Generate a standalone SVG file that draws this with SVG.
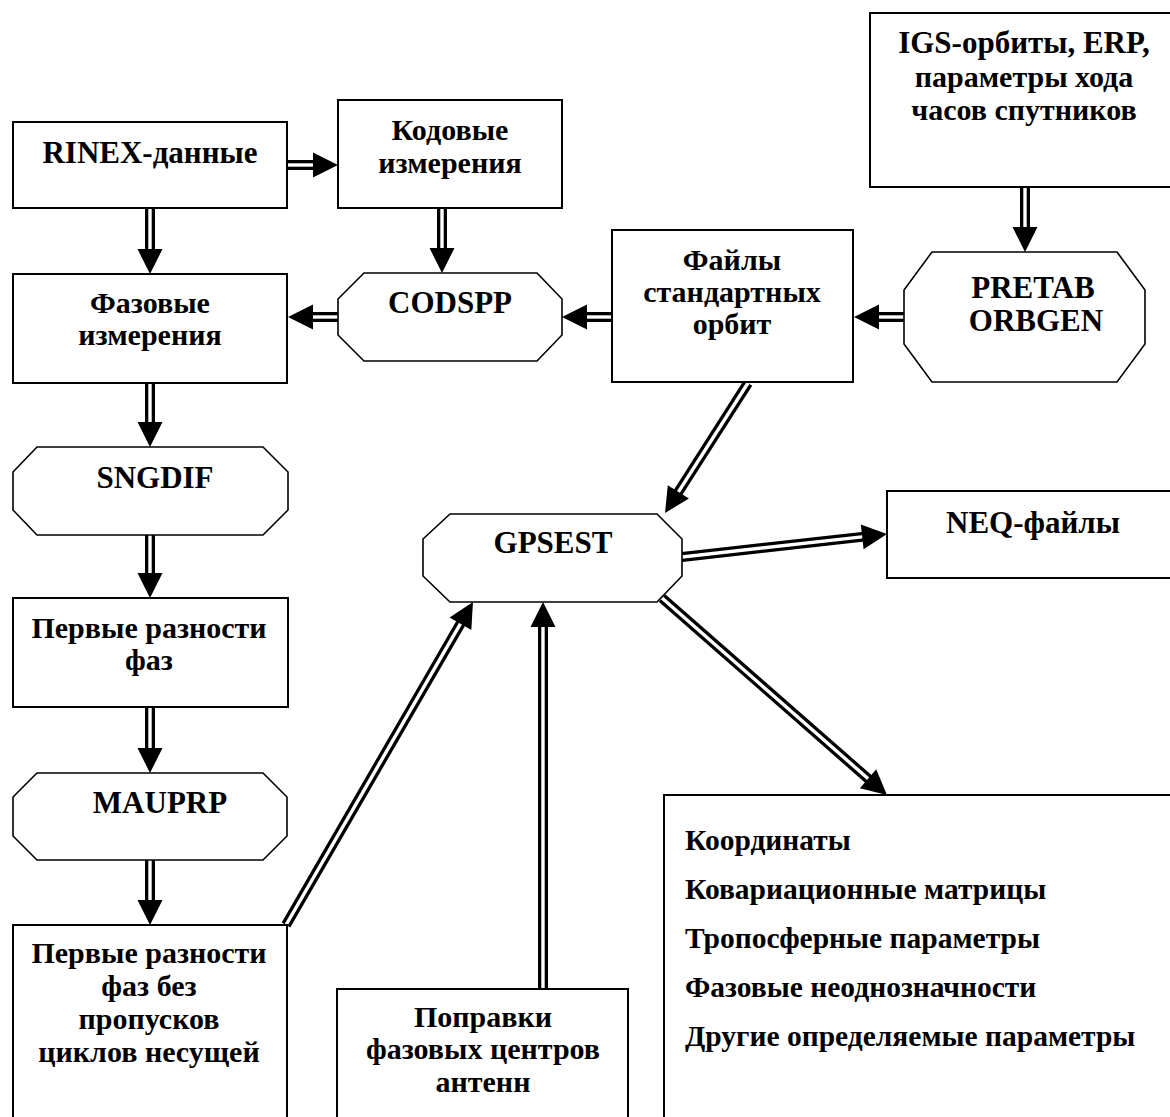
<svg xmlns="http://www.w3.org/2000/svg" width="1170" height="1117" viewBox="0 0 1170 1117">
<style>
.box{fill:#fff;stroke:#000;stroke-width:2}
.oct{fill:#fff;stroke:#000;stroke-width:1.6}
.t{font-family:"Liberation Serif","Times New Roman",serif;font-weight:bold;font-size:31px;fill:#000;text-anchor:middle}
.c{font-size:30px}
.tl{font-family:"Liberation Serif","Times New Roman",serif;font-weight:bold;font-size:29.5px;fill:#000;text-anchor:start}
.so{fill:none;stroke:#000;stroke-width:10}
.si{fill:none;stroke:#fff;stroke-width:3.4}
.hd{fill:#000}
</style>
<rect width="1170" height="1117" fill="#fff"/>
<g id="connectors">
  <!-- RINEX -> Кодовые -->
  <path class="so" d="M286,165 L316,165"/><path class="si" d="M286,165 L316,165"/>
  <polygon class="hd" points="338,165 313,152.5 313,177.5"/>
  <!-- RINEX -> Фазовые -->
  <path class="so" d="M150,207 L150,251"/><path class="si" d="M150,207 L150,251"/>
  <polygon class="hd" points="150,274 137.5,249 162.5,249"/>
  <!-- Кодовые -> CODSPP -->
  <path class="so" d="M442,207 L442,250"/><path class="si" d="M442,207 L442,250"/>
  <polygon class="hd" points="442,273 429.5,248 454.5,248"/>
  <!-- CODSPP -> Фазовые -->
  <path class="so" d="M340,317 L311,317"/><path class="si" d="M340,317 L311,317"/>
  <polygon class="hd" points="288,317 313,304.5 313,329.5"/>
  <!-- Файлы -> CODSPP -->
  <path class="so" d="M614,317 L585,317"/><path class="si" d="M614,317 L585,317"/>
  <polygon class="hd" points="562,317 587,304.5 587,329.5"/>
  <!-- PRETAB -> Файлы -->
  <path class="so" d="M906,317 L877,317"/><path class="si" d="M906,317 L877,317"/>
  <polygon class="hd" points="854,317 879,304.5 879,329.5"/>
  <!-- IGS -> PRETAB -->
  <path class="so" d="M1025,186 L1025,229"/><path class="si" d="M1025,186 L1025,229"/>
  <polygon class="hd" points="1025,252 1012.5,227 1037.5,227"/>
  <!-- Фазовые -> SNGDIF -->
  <path class="so" d="M150,382 L150,424"/><path class="si" d="M150,382 L150,424"/>
  <polygon class="hd" points="150,447 137.5,422 162.5,422"/>
  <!-- SNGDIF -> Первые -->
  <path class="so" d="M150,534 L150,575"/><path class="si" d="M150,534 L150,575"/>
  <polygon class="hd" points="150,598 137.5,573 162.5,573"/>
  <!-- Первые -> MAUPRP -->
  <path class="so" d="M150,706 L150,750"/><path class="si" d="M150,706 L150,750"/>
  <polygon class="hd" points="150,773 137.5,748 162.5,748"/>
  <!-- MAUPRP -> bottom box -->
  <path class="so" d="M150,859 L150,902"/><path class="si" d="M150,859 L150,902"/>
  <polygon class="hd" points="150,925 137.5,900 162.5,900"/>
  <!-- Файлы -> GPSEST -->
  <path class="so" d="M748,383 L677.3,493.6"/><path class="si" d="M748,383 L677.3,493.6"/>
  <polygon class="hd" points="665,513 688.9,498.6 667.8,485.2"/>
  <!-- GPSEST -> NEQ -->
  <path class="so" d="M680,557.2 L864.2,536.6"/><path class="si" d="M680,557.2 L864.2,536.6"/>
  <polygon class="hd" points="887,534 863.6,549.2 860.8,524.4"/>
  <!-- GPSEST -> Results -->
  <path class="so" d="M662,598 L869.6,780"/><path class="si" d="M662,598 L869.6,780"/>
  <polygon class="hd" points="887,795 859.9,788.2 876.2,769.2"/>
  <!-- bottom box -> GPSEST -->
  <path class="so" d="M286,925 L461.5,621.9"/><path class="si" d="M286,925 L461.5,621.9"/>
  <polygon class="hd" points="473,602 471.3,629.9 449.6,617.4"/>
  <!-- Поправки -> GPSEST -->
  <path class="so" d="M543,990 L543,625"/><path class="si" d="M543,990 L543,625"/>
  <polygon class="hd" points="543,602 530.5,627 555.5,627"/>
</g>
<g id="rinex">
  <rect class="box" x="13" y="122" width="274" height="86"/>
  <text class="t" x="150" y="163">RINEX-данные</text>
</g>
<g id="kodovye">
  <rect class="box" x="338" y="100" width="224" height="108"/>
  <text class="t c" x="450" y="140">Кодовые</text>
  <text class="t c" x="450" y="173">измерения</text>
</g>
<g id="fazovye">
  <rect class="box" x="13" y="274" width="274" height="109"/>
  <text class="t c" x="150" y="313">Фазовые</text>
  <text class="t c" x="150" y="345">измерения</text>
</g>
<g id="codspp">
  <polygon class="oct" points="364,273 537,273 562,299 562,335 537,361 364,361 338,335 338,299"/>
  <text class="t" x="450" y="313">CODSPP</text>
</g>
<g id="faily">
  <rect class="box" x="612" y="230" width="241" height="152"/>
  <text class="t c" x="732" y="270">Файлы</text>
  <text class="t c" x="732" y="302">стандартных</text>
  <text class="t c" x="732" y="334">орбит</text>
</g>
<g id="igs">
  <rect class="box" x="870" y="13" width="310" height="174"/>
  <text class="t" x="1024" y="53">IGS-орбиты, ERP,</text>
  <text class="t c" x="1024" y="87">параметры хода</text>
  <text class="t c" x="1024" y="120">часов спутников</text>
</g>
<g id="pretab">
  <polygon class="oct" points="932,252 1117,252 1145,290 1145,344 1117,382 932,382 904,344 904,290"/>
  <text class="t" x="1033" y="298">PRETAB</text>
  <text class="t" x="1036" y="331">ORBGEN</text>
</g>
<g id="sngdif">
  <polygon class="oct" points="37,447 263,447 288,472 288,510 263,535 37,535 13,510 13,472"/>
  <text class="t" x="155" y="488">SNGDIF</text>
</g>
<g id="pervye">
  <rect class="box" x="13" y="598" width="275" height="109"/>
  <text class="t c" x="149" y="638">Первые разности</text>
  <text class="t c" x="149" y="670">фаз</text>
</g>
<g id="mauprp">
  <polygon class="oct" points="37,773 263,773 287,797 287,836 263,860 37,860 13,836 13,797"/>
  <text class="t" x="160" y="813">MAUPRP</text>
</g>
<g id="pervye-bez">
  <rect class="box" x="13" y="925" width="274" height="205"/>
  <text class="t c" x="149" y="963">Первые разности</text>
  <text class="t c" x="149" y="996">фаз без</text>
  <text class="t c" x="149" y="1029">пропусков</text>
  <text class="t c" x="149" y="1062">циклов несущей</text>
</g>
<g id="gpsest">
  <polygon class="oct" points="450,514 657,514 682,539 682,576 657,602 450,602 423,576 423,539"/>
  <text class="t" x="553" y="553">GPSEST</text>
</g>
<g id="neq">
  <rect class="box" x="887" y="491" width="293" height="87"/>
  <text class="t" x="1033" y="533">NEQ-файлы</text>
</g>
<g id="popravki">
  <rect class="box" x="337" y="989" width="291" height="141"/>
  <text class="t c" x="483" y="1027">Поправки</text>
  <text class="t c" x="483" y="1059">фазовых центров</text>
  <text class="t c" x="483" y="1092">антенн</text>
</g>
<g id="results">
  <rect class="box" x="664" y="795" width="516" height="335"/>
  <text class="tl" x="685" y="850">Координаты</text>
  <text class="tl" x="685" y="899">Ковариационные матрицы</text>
  <text class="tl" x="685" y="948">Тропосферные параметры</text>
  <text class="tl" x="685" y="997">Фазовые неоднозначности</text>
  <text class="tl" x="685" y="1046">Другие определяемые параметры</text>
</g>
</svg>
